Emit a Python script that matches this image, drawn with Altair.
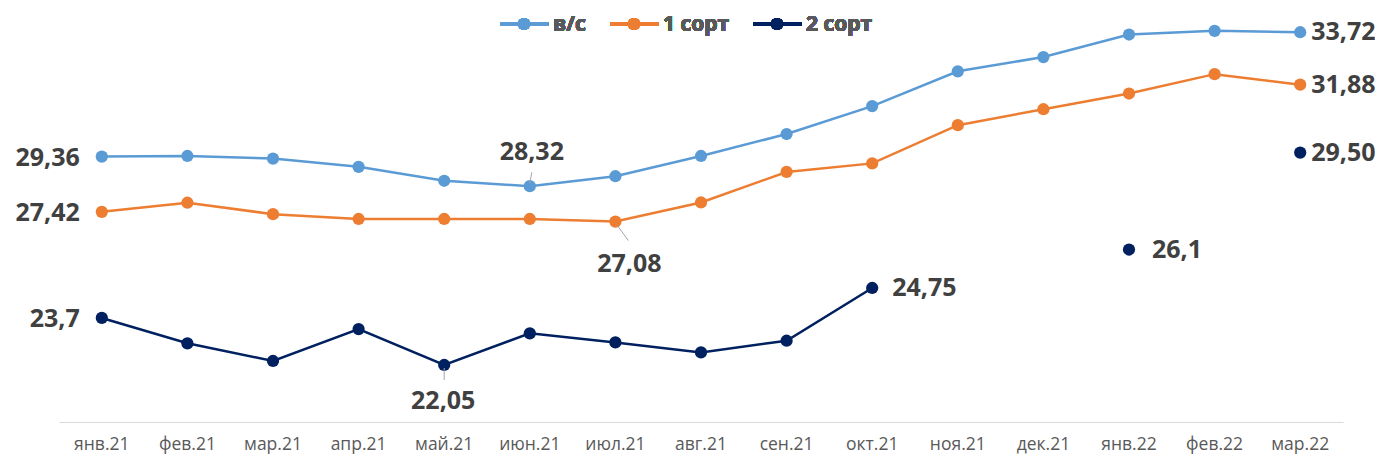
import altair as alt
import pandas as pd

months = ["янв.21", "фев.21", "мар.21", "апр.21", "май.21", "июн.21", "июл.21",
          "авг.21", "сен.21", "окт.21", "ноя.21", "дек.21", "янв.22", "фев.22", "мар.22"]
series_names = ["в/с", "1 сорт", "2 сорт"]
vs = [29.36, 29.38, 29.29, 29.00, 28.51, 28.32, 28.67, 29.38, 30.15, 31.13, 32.35, 32.85, 33.64, 33.77, 33.72]
s1 = [27.42, 27.74, 27.34, 27.17, 27.17, 27.17, 27.08, 27.75, 28.82, 29.12, 30.46, 31.02, 31.57, 32.25, 31.88]
s2 = [23.70, 22.81, 22.19, 23.31, 22.05, 23.16, 22.84, 22.49, 22.90, 24.75, None, None, 26.10, None, 29.50]
colors = ["#5B9BD5", "#ED7D31", "#002060"]

rows = []
for name, vals in zip(series_names, [vs, s1, s2]):
    for m, v in zip(months, vals):
        rows.append({"month": m, "series": name, "value": v})
df = pd.DataFrame(rows)

FONT = "Open Sans"
W, H = 1284, 412

x_enc = alt.X("month:N", sort=months, axis=alt.Axis(
    title=None, labelAngle=0, labelFont=FONT, labelFontSize=17.5, labelColor="#595959",
    ticks=False, tickSize=0, labelPadding=13, domainColor="#D9D9D9", domainWidth=1.2,
    grid=False))
y_enc = alt.Y("value:Q", scale=alt.Scale(domain=[20.05, 34.5], zero=False, nice=False), axis=None)
color_enc = alt.Color("series:N", scale=alt.Scale(domain=series_names, range=colors), legend=None)

base = alt.Chart(df)
lines = base.mark_line(strokeWidth=2.5).encode(x=x_enc, y=y_enc, color=color_enc)
points = base.mark_point(filled=True, size=150, opacity=1).encode(x=x_enc, y=y_enc, color=color_enc)

# data labels: (series, month, decimals, align, dx, dy)
label_specs = [
    ("в/с", "янв.21", 2, "right", -22, 1),
    ("1 сорт", "янв.21", 2, "right", -22, 1),
    ("2 сорт", "янв.21", 1, "right", -22, 1),
    ("в/с", "июн.21", 2, "center", 2, -34),
    ("1 сорт", "июл.21", 2, "center", 14, 42),
    ("2 сорт", "май.21", 2, "center", -1, 36),
    ("2 сорт", "окт.21", 2, "left", 20, 0),
    ("2 сорт", "янв.22", 1, "left", 23, 0),
    ("2 сорт", "мар.22", 2, "left", 11, 0),
    ("1 сорт", "мар.22", 2, "left", 11, 0),
    ("в/с", "мар.22", 2, "left", 11, 0),
]
label_layers = []
for s, m, dec, al, dx, dy in label_specs:
    label_layers.append(
        base.transform_filter((alt.datum.series == s) & (alt.datum.month == m))
        .transform_calculate(lbl=f"replace(format(datum.value, '.{dec}f'), '.', ',')")
        .mark_text(font=FONT, fontSize=25, fontWeight="bold", color="#404040",
                   align=al, baseline="middle", dx=dx, dy=dy)
        .encode(x=x_enc, y=y_enc, text="lbl:N")
    )

# leader lines: (series, month, xOff, yOff, x2Off, y2Off)
leader_specs = [
    ("в/с", "июн.21", 0, -3, 2, -14),
    ("1 сорт", "июл.21", 2, 4, 13, 19),
    ("2 сорт", "май.21", 0, 3, 0, 15),
]
leader_layers = []
for s, m, xo, yo, x2o, y2o in leader_specs:
    leader_layers.append(
        base.transform_filter((alt.datum.series == s) & (alt.datum.month == m))
        .mark_rule(color="#A6A6A6", strokeWidth=1, xOffset=xo, yOffset=yo,
                   x2Offset=x2o, y2Offset=y2o)
        .encode(x=x_enc, x2=alt.X2("month:N"), y=y_enc, y2=alt.Y2("value:Q"))
    )

# custom legend (view coordinates)
legend_layers = []
leg_y = 14
leg_x0 = [441, 551, 694]
for name, col, x0 in zip(series_names, colors, leg_x0):
    legend_layers.append(alt.Chart(df).mark_rule(color=col, strokeWidth=2.5).encode(
        x=alt.value(x0), x2=alt.value(x0 + 49), y=alt.value(leg_y)))
    legend_layers.append(alt.Chart(df).mark_point(filled=True, size=150, color=col, opacity=1).encode(
        x=alt.value(x0 + 24), y=alt.value(leg_y)))
    legend_layers.append(alt.Chart(df).mark_text(font=FONT, fontSize=21, fontWeight="bold",
                                                 color="#595959", align="left", baseline="middle").encode(
        x=alt.value(x0 + 53), y=alt.value(leg_y + 1), text=alt.value(name)))

chart = alt.layer(lines, points, *leader_layers, *label_layers, *legend_layers).properties(
    width=W, height=H,
    autosize=alt.AutoSizeParams(type="none"),
    padding={"left": 51, "top": 2, "right": 32, "bottom": 36},
).configure_view(stroke=None)

chart.save("out.html", embed_options={"renderer": "svg", "actions": False})
